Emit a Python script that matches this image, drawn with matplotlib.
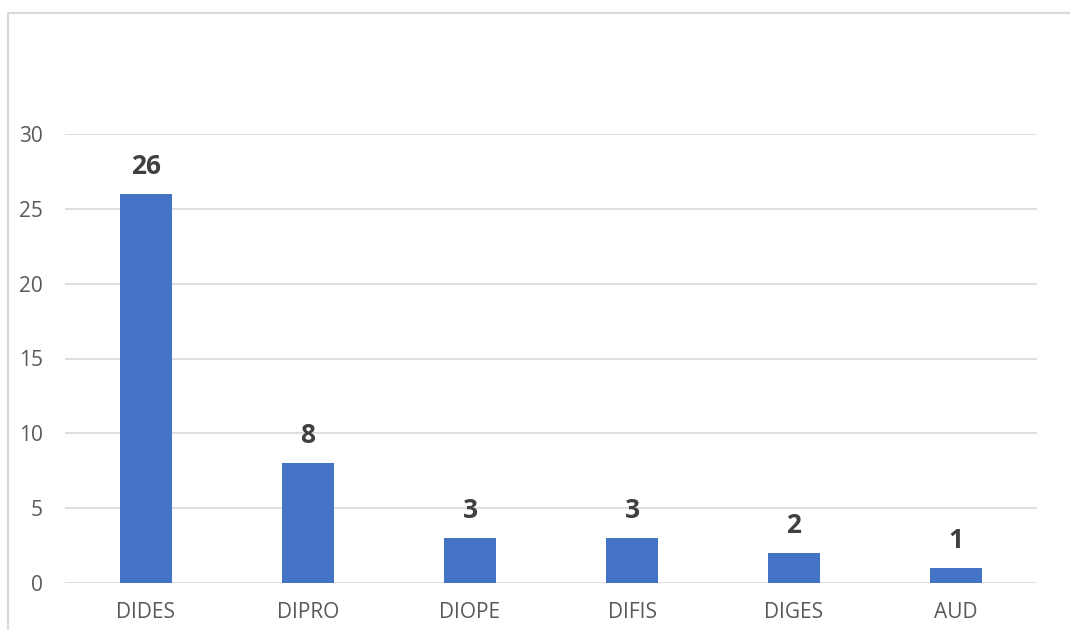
import matplotlib.pyplot as plt
from matplotlib.lines import Line2D
import numpy as np

plt.rcParams['font.family'] = ['Open Sans', 'DejaVu Sans']

# Datos
categorias = ['DIDES', 'DIPRO', 'DIOPE', 'DIFIS', 'DIGES', 'AUD']
valores = [26, 8, 3, 3, 2, 1]

W, H = 1070, 630
fig = plt.figure(figsize=(W / 100, H / 100), dpi=100)
ax = fig.add_axes([65 / W, 1 - 583 / H, (1037 - 65) / W, (583 - 134) / H])

x = np.arange(len(categorias))
barras = ax.bar(x, valores, width=0.315, color='#4472C4', zorder=3)

# Etiquetas de valor sobre las barras
for xi, v in zip(x, valores):
    ax.annotate(str(v), (xi, v), xytext=(0, 10), textcoords='offset points',
                ha='center', va='bottom', fontsize=19, fontweight='bold',
                color='#404040', annotation_clip=False)

ax.set_xlim(-0.5, len(categorias) - 0.5)
ax.set_ylim(0, 30)
ax.set_yticks(np.arange(0, 31, 5))
ax.set_xticks(x)
ax.set_xticklabels(categorias)
ax.grid(axis='y', color='#D9D9D9', linewidth=1.2, zorder=0)
ax.tick_params(axis='both', length=0, labelsize=15, colors='#595959')
ax.tick_params(axis='x', pad=14)
ax.tick_params(axis='y', pad=16)
for s in ax.spines.values():
    s.set_visible(False)

# Borde del gráfico
fig.add_artist(Line2D([8 / W, 8 / W], [0, 1 - 13 / H], color='#D9D9D9', lw=1.5))
fig.add_artist(Line2D([8 / W, 1], [1 - 13 / H, 1 - 13 / H], color='#D9D9D9', lw=1.5))

fig.savefig('out.png', dpi=100)
